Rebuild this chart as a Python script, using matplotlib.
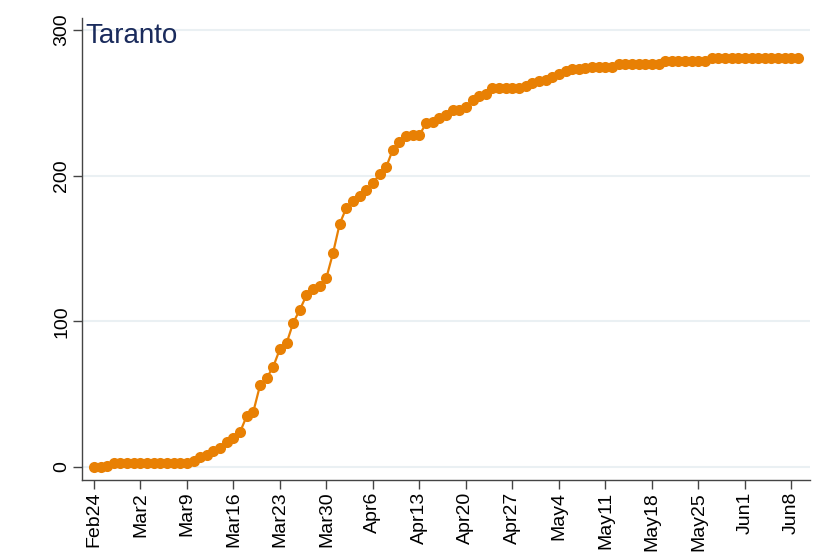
import matplotlib
matplotlib.use("Agg")
import matplotlib.pyplot as plt
import pandas as pd

# cumulative cases, one value per day from 24 Feb 2020
start_day = "2020-02-24"
cases = [0, 0, 1, 3, 3, 3,                      # Feb24-Feb29
         3, 3, 3, 3, 3, 3, 3, 3, 3, 4,          # Mar1-Mar10
         7, 8, 11, 13, 17, 20, 24, 35, 38, 56,  # Mar11-Mar20
         61, 69, 81, 85, 99, 108, 118, 122, 124, 130, 147,  # Mar21-Mar31
         167, 178, 183, 186, 190, 195, 201, 206, 218, 223,  # Apr1-Apr10
         227, 228, 228, 236, 237, 240, 242, 245, 245, 247,  # Apr11-Apr20
         252, 255, 256, 260, 260, 260, 260, 260, 262, 264,  # Apr21-Apr30
         265, 266, 268, 270, 272, 273, 273, 274, 275, 275,  # May1-May10
         275, 275, 277, 277, 277, 277, 277, 277, 277, 279,  # May11-May20
         279, 279, 279, 279, 279, 279, 281, 281, 281, 281, 281,  # May21-May31
         281, 281, 281, 281, 281, 281, 281, 281, 281]   # Jun1-Jun9
title = "Taranto"
yticks = [0, 100, 200, 300]

days = pd.date_range(start_day, periods=len(cases), freq="D")
xticks = pd.date_range(start_day, "2020-06-08", freq="7D")
xlabels = [d.strftime("%b") + str(d.day) for d in xticks]

plt.rcParams['font.family'] = ['Liberation Sans', 'DejaVu Sans']

fig = plt.figure(figsize=(8.18, 5.54), dpi=100)
ax = fig.add_axes([0.1002, 0.1336, 0.89, 0.834])

orange = '#e88004'
ax.plot(days, cases, color=orange, lw=1.6, marker='o', ms=8,
        markeredgewidth=0, zorder=3)

ax.set_xlim(days[0] - pd.Timedelta(days=1.8), days[0] + pd.Timedelta(days=107.8))
ax.set_ylim(-8.9, 308.4)

ax.set_yticks(yticks)
ax.set_yticklabels([str(v) for v in yticks], rotation=90, va='center', fontsize=14)
ax.set_xticks(xticks)
ax.set_xticklabels(xlabels, rotation=90, fontsize=14)

ax.grid(axis='y', color='#eaf0f3', lw=1.5, zorder=0)
ax.set_axisbelow(True)
for s in ['top', 'right']:
    ax.spines[s].set_visible(False)
for s in ['left', 'bottom']:
    ax.spines[s].set_color('#444444')
    ax.spines[s].set_linewidth(1.0)
ax.tick_params(length=6.5, width=1.0, color='#444444', pad=2)

ax.text(0.004, 0.962, title, transform=ax.transAxes, fontsize=20,
        color='#1a2b5c', va='center', ha='left')

fig.savefig("out.png", dpi=100)
